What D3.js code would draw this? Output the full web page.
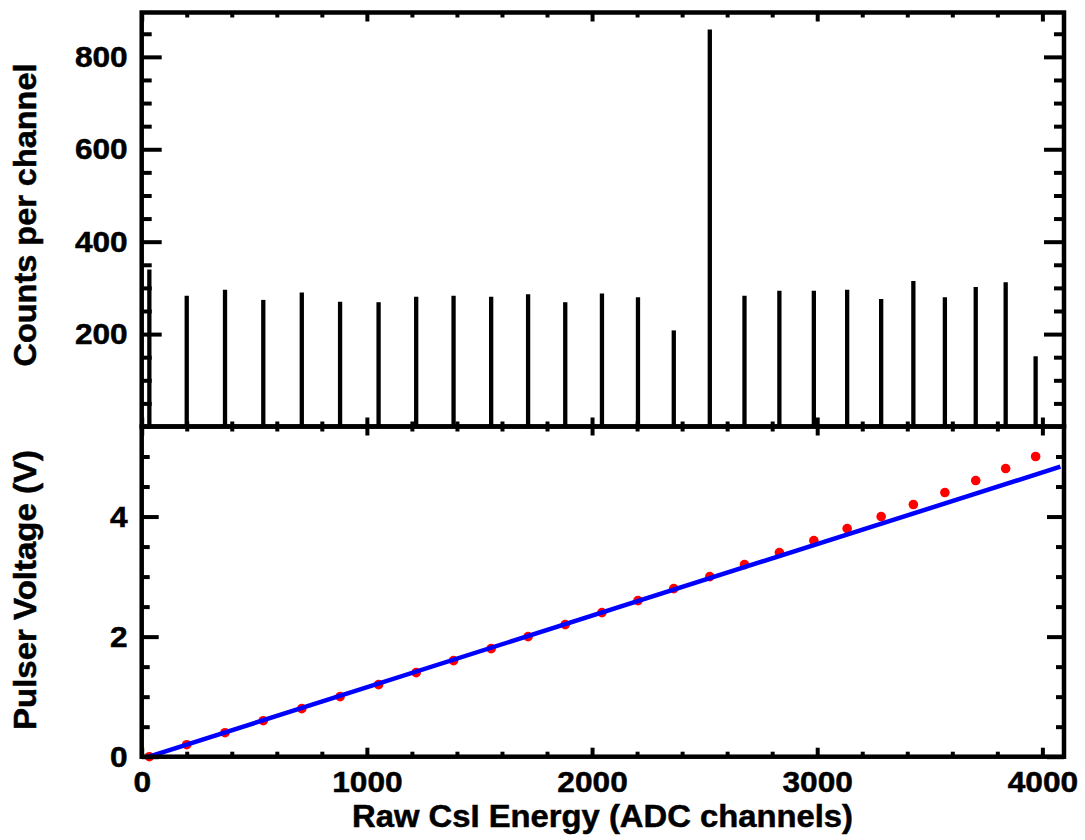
<!DOCTYPE html>
<html>
<head>
<meta charset="utf-8">
<script src="https://cdn.jsdelivr.net/npm/d3@7"></script>
<style>
  html, body { margin: 0; padding: 0; background: #fff; }
  svg { display: block; }
  text { font-family: "Liberation Sans", Arial, Helvetica, sans-serif; font-weight: bold; fill: #000; }
</style>
</head>
<body>
<svg id="chart" width="1085" height="840"></svg>
<script>
// ---- Data ----
const peakChannels = [34, 200, 370, 540, 711, 881, 1052, 1219, 1385, 1552, 1716, 1881, 2044,
                      2204, 2363, 2523, 2677, 2832, 2985, 3133, 3284, 3427, 3567, 3704, 3837, 3970];
const peakCounts   = [340, 283, 296, 274, 290, 270, 269, 281, 283, 281, 286, 269, 288,
                      280, 208, 859, 283, 294, 294, 296, 276, 315, 280, 302, 312, 152];
const pulserVolts  = [0.0, 0.2, 0.4, 0.6, 0.8, 1.0, 1.2, 1.4, 1.6, 1.8, 2.0, 2.2, 2.4,
                      2.6, 2.8, 3.0, 3.2, 3.4, 3.6, 3.8, 4.0, 4.2, 4.4, 4.6, 4.8, 5.0];
const fitChannels  = [22, 4080];
const fitVolts     = [-0.01, 4.83];
const xMajorTicks  = [0, 1000, 2000, 3000, 4000];
const topMajorTicks = [200, 400, 600, 800];
const botMajorTicks = [0, 2, 4];

// ---- Layout ----
const L = 141.7, R = 1064, T = 12.5, M = 426.5, B = 756.7;
const svg = d3.select("#chart");
svg.append("rect").attr("width", 1085).attr("height", 840).attr("fill", "#fff");

const x = d3.scaleLinear().domain([0, 4096]).range([L, R]);
const yTop = d3.scaleLinear().domain([0, 896]).range([M, T]);
const yBot = d3.scaleLinear().domain([0, 5.5]).range([B, M]);

const xMinor = d3.range(0, 4097, 200).filter(v => v % 1000 !== 0);
const topMinor = d3.range(0, 896, 50).filter(v => v % 200 !== 0);
const botMinor = d3.range(0, 5.51, 0.5).filter(v => Math.abs(v / 2 - Math.round(v / 2)) > 1e-6);
const fmt = d3.format("d");

function styleAxis(g, sw) {
  g.select(".domain").remove();
  g.selectAll(".tick line").attr("stroke", "#000").attr("stroke-width", sw);
  g.selectAll(".tick text").attr("font-size", 30).attr("fill", "#000")
    .attr("stroke", "#000").attr("stroke-width", 0.5)
    .attr("font-family", '"Liberation Sans", Arial, Helvetica, sans-serif').attr("font-weight", "bold")
    .attr("lengthAdjust", "spacingAndGlyphs")
    .attr("textLength", function () { return this.textContent.length * 17.6; });
}
function addAxis(gen, tx, ty, sw, labels) {
  const g = svg.append("g").attr("transform", `translate(${tx},${ty})`).call(gen);
  styleAxis(g, sw);
  if (!labels) g.selectAll(".tick text").remove();
  return g;
}

// ---- Top panel data: spikes ----
svg.append("g").selectAll("line").data(peakChannels).join("line")
  .attr("x1", d => x(d)).attr("x2", d => x(d))
  .attr("y1", yTop(0)).attr("y2", (d, i) => yTop(peakCounts[i]))
  .attr("stroke", "#000").attr("stroke-width", 4.3);

// ---- Bottom panel data: points + fit ----
svg.append("g").selectAll("circle").data(peakChannels).join("circle")
  .attr("cx", d => x(d)).attr("cy", (d, i) => yBot(pulserVolts[i]))
  .attr("r", 4.8).attr("fill", "#ff0000");
const fitData = fitChannels.map((c, i) => [c, fitVolts[i]]);
svg.append("path").datum(fitData)
  .attr("d", d3.line().x(d => x(d[0])).y(d => yBot(d[1])))
  .attr("fill", "none").attr("stroke", "#0000ff").attr("stroke-width", 4.5);

// ---- Axes: top panel ----
const xs = 4;
addAxis(d3.axisTop(x).tickValues(xMajorTicks).tickSize(-9).tickSizeOuter(0), 0, T, xs, false);
addAxis(d3.axisTop(x).tickValues(xMinor).tickSize(-5).tickSizeOuter(0), 0, T, xs, false);
addAxis(d3.axisBottom(x).tickValues(xMajorTicks).tickSize(-9).tickSizeOuter(0), 0, M, xs, false);
addAxis(d3.axisBottom(x).tickValues(xMinor).tickSize(-5).tickSizeOuter(0), 0, M, xs, false);
addAxis(d3.axisLeft(yTop).tickValues(topMajorTicks).tickFormat(fmt).tickSize(-20).tickSizeOuter(0).tickPadding(14), L, 0, xs, true);
addAxis(d3.axisLeft(yTop).tickValues(topMinor).tickSize(-10).tickSizeOuter(0), L, 0, xs, false);
addAxis(d3.axisRight(yTop).tickValues(topMajorTicks).tickSize(-20).tickSizeOuter(0), R, 0, xs, false);
addAxis(d3.axisRight(yTop).tickValues(topMinor).tickSize(-10).tickSizeOuter(0), R, 0, xs, false);

// ---- Axes: bottom panel ----
addAxis(d3.axisTop(x).tickValues(xMajorTicks).tickSize(-9).tickSizeOuter(0), 0, M, xs, false);
addAxis(d3.axisTop(x).tickValues(xMinor).tickSize(-5).tickSizeOuter(0), 0, M, xs, false);
addAxis(d3.axisBottom(x).tickValues(xMajorTicks).tickFormat(fmt).tickSize(-9).tickSizeOuter(0).tickPadding(14), 0, B, xs, true);
addAxis(d3.axisBottom(x).tickValues(xMinor).tickSize(-5).tickSizeOuter(0), 0, B, xs, false);
addAxis(d3.axisLeft(yBot).tickValues(botMajorTicks).tickFormat(fmt).tickSize(-17).tickSizeOuter(0).tickPadding(14), L, 0, xs, true);
addAxis(d3.axisLeft(yBot).tickValues(botMinor).tickSize(-8).tickSizeOuter(0), L, 0, xs, false);
addAxis(d3.axisRight(yBot).tickValues(botMajorTicks).tickSize(-17).tickSizeOuter(0), R, 0, xs, false);
addAxis(d3.axisRight(yBot).tickValues(botMinor).tickSize(-8).tickSizeOuter(0), R, 0, xs, false);

// ---- Frames ----
svg.append("rect").attr("x", L).attr("y", T).attr("width", R - L).attr("height", M - T)
  .attr("fill", "none").attr("stroke", "#000").attr("stroke-width", 4.5);
svg.append("rect").attr("x", L).attr("y", M).attr("width", R - L).attr("height", B - M)
  .attr("fill", "none").attr("stroke", "#000").attr("stroke-width", 4.5);

// ---- Titles ----
function title(sel) {
  return sel.attr("text-anchor", "middle").attr("font-size", 31)
    .attr("stroke", "#000").attr("stroke-width", 0.5)
    .attr("lengthAdjust", "spacingAndGlyphs");
}
title(svg.append("text").attr("transform", "translate(36,215) rotate(-90)"))
  .attr("textLength", 303).text("Counts per channel");
title(svg.append("text").attr("transform", "translate(36,590) rotate(-90)"))
  .attr("textLength", 280).text("Pulser Voltage (V)");
title(svg.append("text").attr("x", 602.5).attr("y", 827))
  .attr("textLength", 501).text("Raw CsI Energy (ADC channels)");
</script>
</body>
</html>
